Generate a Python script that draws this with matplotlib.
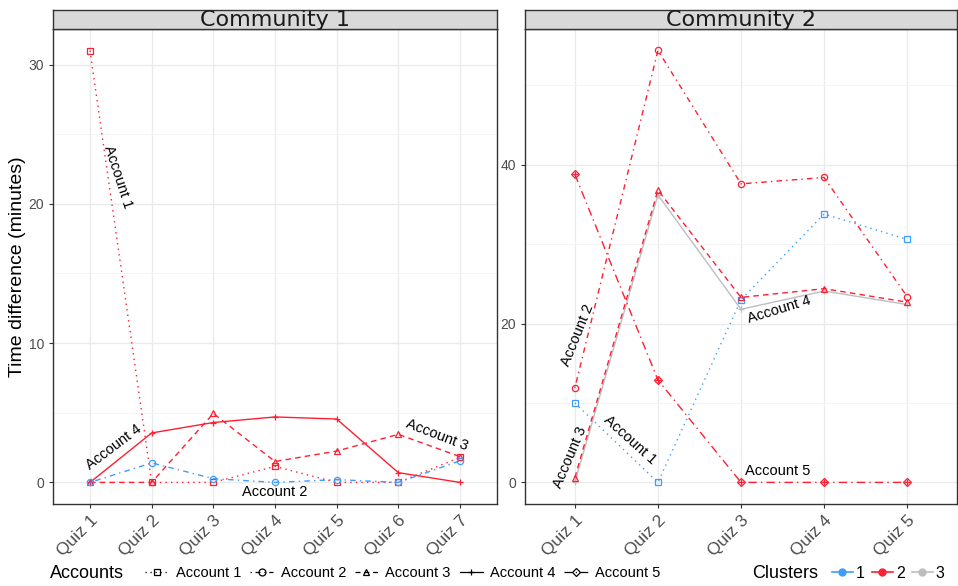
import numpy as np
import matplotlib.pyplot as plt
from matplotlib.lines import Line2D

# data
quizzes1 = ['Quiz 1', 'Quiz 2', 'Quiz 3', 'Quiz 4', 'Quiz 5', 'Quiz 6', 'Quiz 7']
quizzes2 = ['Quiz 1', 'Quiz 2', 'Quiz 3', 'Quiz 4', 'Quiz 5']

c1_acc1 = [31.0, 0.0, 0.0, 1.15, 0.0, 0.0, 1.8]
c1_acc2 = [0.0, 1.4, 0.27, 0.0, 0.2, 0.0, 1.55]
c1_acc3 = [0.0, 0.0, 4.95, 1.5, 2.25, 3.45, 1.85]
c1_acc4 = [0.0, 3.55, 4.3, 4.7, 4.55, 0.7, 0.0]
c1_clusters = {'Account 1': 2, 'Account 2': 1, 'Account 3': 2, 'Account 4': 2}

c2_acc1 = [10.0, 0.0, 23.0, 33.8, 30.6]
c2_acc2 = [11.9, 54.4, 37.6, 38.4, 23.4]
c2_acc3 = [0.6, 36.8, 23.3, 24.4, 22.7]
c2_acc4 = [0.0, 36.2, 21.8, 24.1, 22.4]
c2_acc5 = [38.8, 12.9, 0.0, 0.0, 0.0]
c2_clusters = {'Account 1': 1, 'Account 2': 2, 'Account 3': 2, 'Account 4': 3, 'Account 5': 2}

cluster_col = {1: '#3D9DFF', 2: '#FF1F33', 3: '#BEBEBE'}
styles = {
    'Account 1': dict(ls=(0, (1, 3)), marker='s'),
    'Account 2': dict(ls=(0, (1, 3, 4, 3)), marker='o'),
    'Account 3': dict(ls=(0, (4, 3)), marker='^'),
    'Account 4': dict(ls='-', marker='+'),
    'Account 5': dict(ls=(0, (6, 3, 1, 3)), marker='D'),
}

plt.rcParams['font.family'] = ['Liberation Sans', 'DejaVu Sans']
fig = plt.figure(figsize=(9.58, 5.86), dpi=100)
W, H = 958, 586


def px_axes(l, t, r, b):
    return fig.add_axes([l / W, 1 - b / H, (r - l) / W, (b - t) / H])


def draw_line(ax, x, y, name, col):
    st = styles[name]
    mk = st['marker']
    ms = 4.5 if mk != 'D' else 4
    ax.plot(x, y, color=col, ls=st['ls'], lw=1.0, marker=mk, ms=ms,
            mfc='none', mec=col, mew=0.9, zorder=3)
    if mk == 'D':
        ax.plot(x, y, ls='none', marker='+', ms=5, mec=col, mew=0.9, zorder=3)


def style_panel(ax, title, nq, ylim, yt, ymin):
    ax.set_xlim(0.4, nq + 0.6)
    ax.set_ylim(*ylim)
    ax.set_yticks(yt)
    ax.set_yticks(ymin, minor=True)
    ax.set_xticks(np.arange(1, nq + 1))
    ax.grid(True, which='major', color='#EBEBEB', lw=1.0, zorder=0)
    ax.grid(True, which='minor', axis='y', color='#F3F3F3', lw=0.6, zorder=0)
    ax.set_axisbelow(True)
    for s in ax.spines.values():
        s.set_color('#333333')
        s.set_linewidth(1.0)
    ax.tick_params(axis='both', colors='#333333', labelcolor='#4D4D4D',
                   labelsize=10, length=3, width=0.8)
    ax.tick_params(axis='x', labelsize=12.5)
    ax.tick_params(axis='y', which='minor', length=0)
    pos = ax.get_position()
    sax = fig.add_axes([pos.x0, pos.y1, pos.width, 19 / H])
    sax.set_xticks([]); sax.set_yticks([])
    sax.set_facecolor('#D9D9D9')
    for s in sax.spines.values():
        s.set_color('#333333')
        s.set_linewidth(1.0)
    sax.text(0.5, 0.45, title, ha='center', va='center', fontsize=16,
             family='DejaVu Sans', color='#1A1A1A', transform=sax.transAxes)


# Community 1
ax1 = px_axes(53, 29, 497, 504)
x1 = np.arange(1, len(quizzes1) + 1)
for name, y in [('Account 1', c1_acc1), ('Account 3', c1_acc3),
                ('Account 4', c1_acc4), ('Account 2', c1_acc2)]:
    draw_line(ax1, x1, y, name, cluster_col[c1_clusters[name]])
style_panel(ax1, 'Community 1', len(quizzes1), (-1.55, 32.55), [0, 10, 20, 30], [5, 15, 25])
ax1.set_xticklabels(quizzes1, rotation=45, ha='right', rotation_mode='anchor')
ax1.set_ylabel('Time difference (minutes)', fontsize=14, labelpad=2)
ax1.text(1.45, 21.9, 'Account 1', rotation=-72, ha='center', va='center', fontsize=10.5)
ax1.text(1.39, 2.5, 'Account 4', rotation=37, ha='center', va='center', fontsize=10.5)
ax1.text(6.63, 3.37, 'Account 3', rotation=-21, ha='center', va='center', fontsize=10.5)
ax1.text(4.0, -0.72, 'Account 2', ha='center', va='center', fontsize=10.5)

# Community 2
ax2 = px_axes(525, 29, 957, 504)
x2 = np.arange(1, len(quizzes2) + 1)
for name, y in [('Account 4', c2_acc4), ('Account 1', c2_acc1), ('Account 3', c2_acc3),
                ('Account 2', c2_acc2), ('Account 5', c2_acc5)]:
    draw_line(ax2, x2, y, name, cluster_col[c2_clusters[name]])
style_panel(ax2, 'Community 2', len(quizzes2), (-2.72, 57.1), [0, 20, 40], [10, 30, 50])
ax2.set_xticklabels(quizzes2, rotation=45, ha='right', rotation_mode='anchor')
ax2.text(1.035, 18.6, 'Account 2', rotation=68, ha='center', va='center', fontsize=10.5)
ax2.text(0.94, 3.1, 'Account 3', rotation=67, ha='center', va='center', fontsize=10.5)
ax2.text(1.66, 5.4, 'Account 1', rotation=-42, ha='center', va='center', fontsize=10.5)
ax2.text(3.46, 21.8, 'Account 4', rotation=17, ha='center', va='center', fontsize=10.5)
ax2.text(3.44, 1.4, 'Account 5', ha='center', va='center', fontsize=10.5)

# legends
acc_handles = []
for name, st in styles.items():
    acc_handles.append(Line2D([], [], color='black', ls=st['ls'], lw=0.9, marker=st['marker'],
                              ms=5 if st['marker'] != 'D' else 4.5, mfc='none', mew=0.9))
fig.text(50 / W, 1 - 573 / H, 'Accounts', fontsize=13, va='center', ha='left')
fig.legend(acc_handles, list(styles.keys()), loc='center left',
           bbox_to_anchor=(138 / W, 1 - 573 / H), ncol=5, frameon=False, fontsize=10.5,
           handlelength=1.6, handletextpad=0.5, columnspacing=0.6, borderpad=0)

cl_handles = [Line2D([], [], color=cluster_col[k], lw=1.2, marker='o', ms=5) for k in (1, 2, 3)]
fig.text(752 / W, 1 - 573 / H, 'Clusters', fontsize=13, va='center', ha='left')
fig.legend(cl_handles, ['1', '2', '3'], loc='center left',
           bbox_to_anchor=(824 / W, 1 - 573 / H), ncol=3, frameon=False, fontsize=11.5,
           handlelength=1.3, handletextpad=0.2, columnspacing=0.45, borderpad=0)

fig.savefig('out.png', dpi=100)
